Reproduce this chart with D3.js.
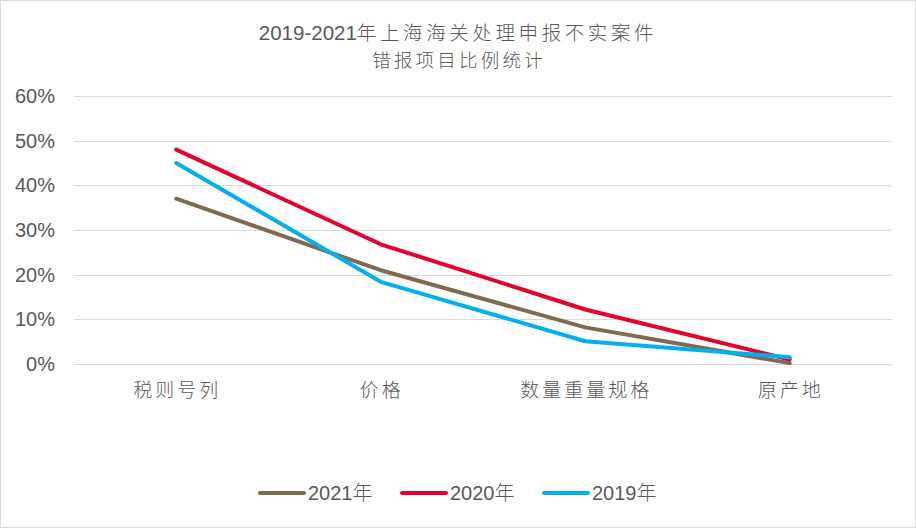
<!DOCTYPE html>
<meta charset="utf-8">
<style>
body { margin: 0; background: #fff; }
text {
  font-family: "Liberation Sans", Arial, "Noto Sans CJK SC", sans-serif;
  fill: #595959;
}
.cjk { font-family: "Noto Sans CJK SC", sans-serif; font-weight: 300; }
.grid line { stroke: #d9d9d9; stroke-width: 1px; }
.series { fill: none; stroke-width: 4px; stroke-linejoin: round; stroke-linecap: round; }
</style>
<svg width="916" height="528"></svg>
<script src="https://d3js.org/d3.v7.min.js"></script>
<script>

var categories = ["税则号列", "价格", "数量重量规格", "原产地"];
var seriesNames = ["2021年", "2020年", "2019年"];
var colors = ["#7f6a4f", "#e8002d", "#00b0f0"];
var v2021 = [37.0, 21.0, 8.2, 0.2];
var v2020 = [48.0, 26.8, 12.2, 1.0];
var v2019 = [45.0, 18.4, 5.1, 1.5];
var yTicks = [0, 10, 20, 30, 40, 50, 60];

var series = [v2021, v2020, v2019];

var svg = d3.select("svg");

// outer frame
svg.append("rect")
    .attr("x", 0.5).attr("y", 0.5)
    .attr("width", 915).attr("height", 527)
    .attr("fill", "#fff")
    .attr("stroke", "#d9d9d9");

var x = d3.scaleBand()
    .domain(categories)
    .range([74, 892]);

var y = d3.scaleLinear()
    .domain([0, 60])
    .range([364, 96]);

// gridlines
svg.append("g").attr("class", "grid")
  .selectAll("line")
  .data(yTicks)
  .enter().append("line")
    .attr("x1", 74).attr("x2", 892)
    .attr("y1", function(d) { return Math.round(y(d)) + 0.5; })
    .attr("y2", function(d) { return Math.round(y(d)) + 0.5; });

// y labels
svg.append("g")
  .selectAll("text")
  .data(yTicks)
  .enter().append("text")
    .attr("x", 55)
    .attr("y", function(d) { return y(d); })
    .attr("dy", "0.35em")
    .attr("text-anchor", "end")
    .attr("font-size", 20)
    .text(function(d) { return d + "%"; });

// x labels
svg.append("g")
  .selectAll("text")
  .data(categories)
  .enter().append("text")
    .attr("class", "cjk")
    .attr("x", function(d) { return x(d) + x.bandwidth() / 2 + 1; })
    .attr("y", 397)
    .attr("text-anchor", "middle")
    .attr("font-size", 19)
    .attr("letter-spacing", "3px")
    .text(function(d) { return d; });

// lines
var line = d3.line()
    .x(function(d, i) { return x(categories[i]) + x.bandwidth() / 2; })
    .y(function(d) { return y(d); });

svg.append("g")
  .selectAll("path")
  .data(series)
  .enter().append("path")
    .attr("class", "series")
    .attr("stroke", function(d, i) { return colors[i]; })
    .attr("d", line);

// title
var t1 = svg.append("text")
    .attr("x", 458).attr("y", 40)
    .attr("text-anchor", "middle")
    .attr("font-size", 20.5);
t1.append("tspan").text("2019-2021");
t1.append("tspan").attr("class", "cjk").attr("font-size", 19.5).attr("letter-spacing", "3.6px")
    .text("年上海海关处理申报不实案件");

svg.append("text")
    .attr("class", "cjk")
    .attr("x", 459).attr("y", 67)
    .attr("text-anchor", "middle")
    .attr("font-size", 18.5)
    .attr("letter-spacing", "3.2px")
    .text("错报项目比例统计");

// legend
var legendX = [258, 400, 542];
var lg = svg.append("g")
  .selectAll("g")
  .data(seriesNames)
  .enter().append("g")
    .attr("transform", function(d, i) { return "translate(" + legendX[i] + ",493)"; });

lg.append("line")
    .attr("x1", 2).attr("x2", 46)
    .attr("stroke", function(d, i) { return colors[i]; })
    .attr("stroke-width", 4)
    .attr("stroke-linecap", "round");

var lt = lg.append("text")
    .attr("x", 50)
    .attr("dy", "0.36em")
    .attr("font-size", 20);
lt.append("tspan").text(function(d) { return d.replace("年", ""); });
lt.append("tspan").attr("class", "cjk").text("年");

</script>
